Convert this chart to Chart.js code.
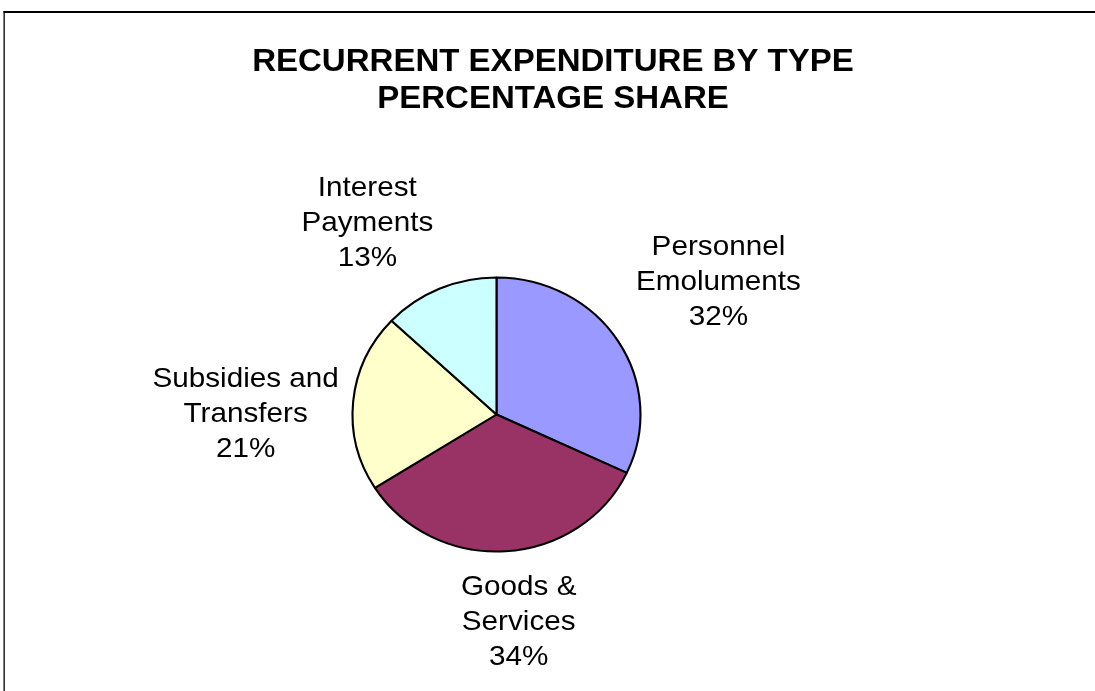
<!DOCTYPE html>
<html>
<head>
<meta charset="utf-8">
<script src="https://cdn.jsdelivr.net/npm/chart.js@4.4.1/dist/chart.umd.min.js"></script>
<style>
  html, body { margin: 0; padding: 0; background: #ffffff; }
  #wrap { width: 1095px; height: 691px; position: relative; }
</style>
</head>
<body>
<div id="wrap"><canvas id="c" width="1095" height="691"></canvas></div>
<script>
// ---- data ----
const categories = ["Personnel Emoluments", "Goods & Services", "Subsidies and Transfers", "Interest Payments"];
const labelLines = [["Personnel", "Emoluments"], ["Goods &", "Services"], ["Subsidies and", "Transfers"], ["Interest", "Payments"]];
const shares = [32, 34, 21, 13];
const titleLines = ["RECURRENT EXPENDITURE BY TYPE", "PERCENTAGE SHARE"];

// ---- styles ----
const sliceColors = ["#9999FF", "#993366", "#FFFFCC", "#CCFFFF"];
const FONT = '"Liberation Sans", Arial, sans-serif';
const PIE_SX = 1.051;       // horizontal stretch of the pie
const TEXT_SX = 1.06;       // horizontal stretch of label text
const TITLE_SX = 1.065;

const framePlugin = {
  id: 'frame',
  beforeDraw(chart) {
    const ctx = chart.ctx;
    ctx.save();
    ctx.fillStyle = '#ffffff';
    ctx.fillRect(0, 0, chart.width, chart.height);
    ctx.fillStyle = '#000000';
    ctx.fillRect(3.5, 11, chart.width, 2);
    ctx.fillRect(3.5, 11, 1.3, chart.height);
    ctx.restore();
  }
};

const stretchPlugin = {
  id: 'stretch',
  beforeDatasetsDraw(chart) {
    const meta = chart.getDatasetMeta(0);
    const cx = meta.data[0].x, cy = meta.data[0].y;
    const ctx = chart.ctx;
    ctx.save();
    ctx.translate(cx, cy);
    ctx.scale(PIE_SX, 1);
    ctx.translate(-cx, -cy);
  },
  afterDatasetsDraw(chart) {
    chart.ctx.restore();
  }
};

const labelPlugin = {
  id: 'pieLabels',
  afterDraw(chart, args, opts) {
    const ctx = chart.ctx;
    const meta = chart.getDatasetMeta(0);
    const data = chart.data.datasets[0].data;
    const total = data.reduce((a, b) => a + b, 0);
    const lh = 35, cap = 20, gap = 18;
    ctx.save();
    ctx.font = '28px ' + FONT;
    ctx.fillStyle = '#000000';
    ctx.textAlign = 'center';
    ctx.textBaseline = 'alphabetic';
    meta.data.forEach((arc, i) => {
      const p = arc.getProps(['x', 'y', 'startAngle', 'endAngle', 'outerRadius'], true);
      const mid = (p.startAngle + p.endAngle) / 2;
      const ux = Math.cos(mid), uy = Math.sin(mid);
      const lines = labelLines[i].concat([Math.round(data[i] / total * 100) + '%']);
      const w = Math.max(...lines.map(l => ctx.measureText(l).width)) * TEXT_SX;
      const h = (lines.length - 1) * lh + cap;
      const support = Math.abs(ux) * w / 2 + Math.abs(uy) * h / 2;
      const ax = p.x + ux * p.outerRadius * PIE_SX;
      const ay = p.y + uy * p.outerRadius;
      const nudge = opts.nudges[i] || [0, 0];
      const cxl = ax + ux * (gap + support) + nudge[0];
      const cyl = ay + uy * (gap + support) + nudge[1];
      lines.forEach((t, k) => {
        const base = cyl + cap / 2 + (k - (lines.length - 1) / 2) * lh;
        ctx.save();
        ctx.translate(cxl, base);
        ctx.scale(TEXT_SX, 1);
        ctx.fillText(t, 0, 0);
        ctx.restore();
      });
    });
    // title
    ctx.font = 'bold 31px ' + FONT;
    titleLines.forEach((t, k) => {
      ctx.save();
      ctx.translate(opts.titleX, opts.titleBase + k * 37);
      ctx.scale(TITLE_SX, 1);
      ctx.fillText(t, 0, 0);
      ctx.restore();
    });
    ctx.restore();
  }
};

new Chart(document.getElementById('c'), {
  type: 'pie',
  data: {
    labels: categories,
    datasets: [{
      data: shares,
      backgroundColor: sliceColors,
      borderColor: '#000000',
      borderWidth: 2,
      clip: false
    }]
  },
  options: {
    responsive: false,
    animation: false,
    devicePixelRatio: 1,
    layout: { padding: { top: 276.5, bottom: 138.5, left: 296.5, right: 398.5 } },
    plugins: {
      legend: { display: false },
      title: { display: false },
      tooltip: { enabled: false },
      pieLabels: {
        nudges: [[6, -1], [9, 2], [7, 21.5], [-38, 11]],
        titleX: 553,
        titleBase: 71
      }
    }
  },
  plugins: [framePlugin, stretchPlugin, labelPlugin]
});
</script>
</body>
</html>
